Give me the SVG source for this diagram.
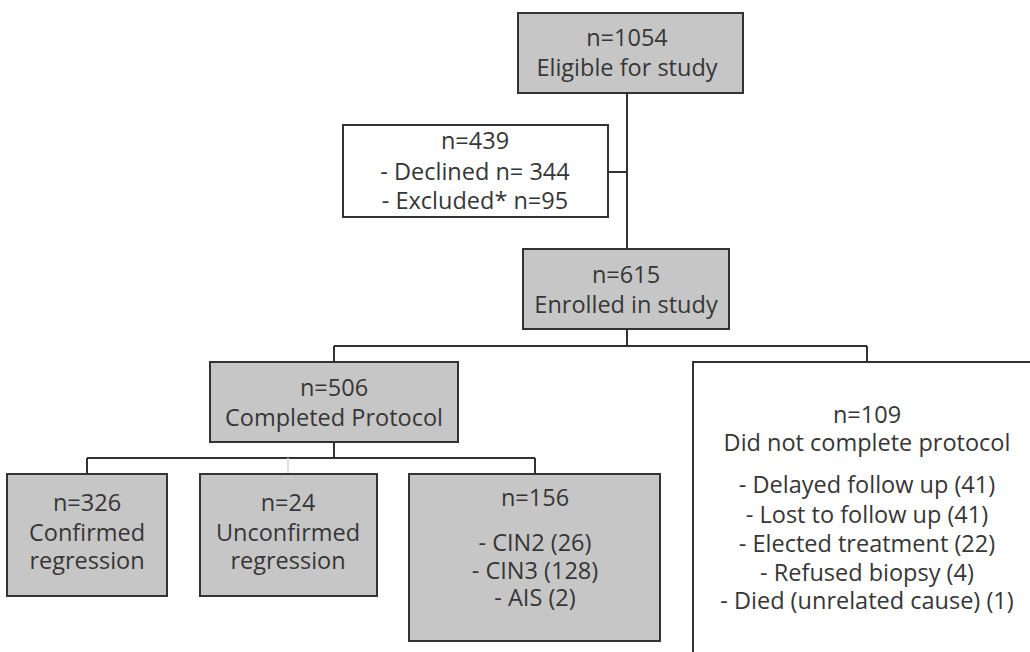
<svg xmlns="http://www.w3.org/2000/svg" width="1030" height="652" viewBox="0 0 1030 652">
<style>
.box{fill:#c6c6c6;stroke:#333;stroke-width:2}
.wbox{fill:#fff;stroke:#333;stroke-width:2}
.ln{fill:none;stroke:#333;stroke-width:2}
.faint{fill:none;stroke:#d4d4d4;stroke-width:1.5}
text{font-family:"Open Sans","Liberation Sans",sans-serif;font-size:23.5px;fill:#363636;text-anchor:middle}
</style>
<rect width="1030" height="652" fill="#fff"/>
<g id="connectors">
<path class="ln" d="M627,93 V249"/>
<path class="ln" d="M608,172 H627"/>
<path class="ln" d="M627,329 V346 M334,346 H867 M334,346 V362 M867,346 V362"/>
<path class="ln" d="M334,442 V458 M87,458 H535 M87,458 V474 M535,458 V474"/>
<path class="faint" d="M288,458 V474"/>
</g>
<g id="eligible">
<rect class="box" x="518" y="13" width="225" height="80"/>
<text x="627" y="46">n=1054</text>
<text x="627" y="76">Eligible for study</text>
</g>
<g id="excluded">
<rect class="wbox" x="343" y="125" width="265" height="92"/>
<text x="475" y="149">n=439</text>
<text x="475" y="180">- Declined n= 344</text>
<text x="475" y="209">- Excluded* n=95</text>
</g>
<g id="enrolled">
<rect class="box" x="523" y="249" width="206" height="80"/>
<text x="626" y="283">n=615</text>
<text x="626" y="313">Enrolled in study</text>
</g>
<g id="completed">
<rect class="box" x="210" y="362" width="248" height="80"/>
<text x="334" y="396">n=506</text>
<text x="334" y="426">Completed Protocol</text>
</g>
<g id="notcompleted">
<rect class="wbox" x="693" y="362" width="400" height="330"/>
<text x="867" y="423">n=109</text>
<text x="867" y="451">Did not complete protocol</text>
<text x="867" y="493">- Delayed follow up (41)</text>
<text x="867" y="523">- Lost to follow up (41)</text>
<text x="867" y="552">- Elected treatment (22)</text>
<text x="867" y="581">- Refused biopsy (4)</text>
<text x="867" y="609">- Died (unrelated cause) (1)</text>
</g>
<g id="confirmed">
<rect class="box" x="7" y="474" width="160" height="122"/>
<text x="87" y="511">n=326</text>
<text x="87" y="541">Confirmed</text>
<text x="87" y="569">regression</text>
</g>
<g id="unconfirmed">
<rect class="box" x="200" y="474" width="177" height="122"/>
<text x="288" y="511">n=24</text>
<text x="288" y="541">Unconfirmed</text>
<text x="288" y="569">regression</text>
</g>
<g id="cin">
<rect class="box" x="409" y="474" width="251" height="167"/>
<text x="535" y="506">n=156</text>
<text x="535" y="551">- CIN2 (26)</text>
<text x="535" y="579">- CIN3 (128)</text>
<text x="535" y="606">- AIS (2)</text>
</g>
</svg>
